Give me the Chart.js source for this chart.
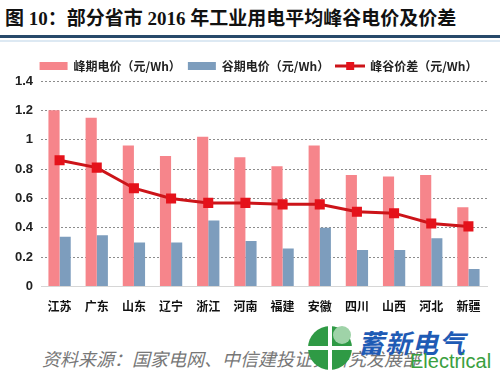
<!DOCTYPE html>
<html><head><meta charset="utf-8">
<script src="https://cdn.jsdelivr.net/npm/chart.js@4"></script>
<style>
html,body{margin:0;padding:0;background:#fff;width:500px;height:371px;overflow:hidden;position:relative;font-family:"Noto Sans CJK SC",sans-serif}
#title{position:absolute;left:5px;top:6px;font-family:"Liberation Serif","Noto Sans CJK SC",serif;font-weight:bold;font-size:19px;color:#111;white-space:nowrap;line-height:26px}
#rule{position:absolute;left:0;top:35px;width:500px;height:3px;background:#27496a}
#rule2{position:absolute;left:0;top:40px;width:500px;height:2px;background:#dde9f3}
#wrap{position:absolute;left:0;top:42px;width:500px;height:281px}
#src{position:absolute;left:42px;top:347px;font-size:18px;font-style:italic;color:#777;white-space:nowrap;line-height:22px}
#logo{position:absolute;left:305px;top:325px;width:50px;height:46px}
#brand{position:absolute;left:358px;top:328px;font-size:26px;font-weight:bold;font-style:italic;color:#1f5bb5;letter-spacing:1px;line-height:28px;white-space:nowrap}
#brand2{position:absolute;left:410px;top:350px;font-family:"Liberation Sans",sans-serif;font-size:20px;color:#3aa040;line-height:22px;white-space:nowrap}
</style></head>
<body>
<div id="title">图 10：部分省市 2016 年工业用电平均峰谷电价及价差</div>
<div id="rule"></div><div id="rule2"></div>
<div id="wrap"><canvas id="c"></canvas></div>
<div id="src">资料来源：国家电网、中信建投证券研究发展部</div>
<svg id="logo" viewBox="0 0 50 46"><circle cx="25" cy="23" r="22" fill="#2f9a45"/><path d="M25 1 L25 45 M3 23 L47 23" stroke="#fff" stroke-width="4"/><circle cx="37" cy="10" r="9" fill="#9fd3a8"/></svg>
<div id="brand">蓄新电气</div>
<div id="brand2">Electrical</div>
<script>
const categories = ["江苏","广东","山东","辽宁","浙江","河南","福建","安徽","四川","山西","河北","新疆"];
const peakPrice   = [1.20,1.15,0.96,0.89,1.02,0.88,0.82,0.96,0.76,0.75,0.76,0.54];
const valleyPrice = [0.34,0.35,0.30,0.30,0.45,0.31,0.26,0.40,0.25,0.25,0.33,0.12];
const priceGap    = [0.86,0.81,0.67,0.60,0.57,0.57,0.56,0.56,0.51,0.50,0.43,0.41];
const yTicks = [0,0.2,0.4,0.6,0.8,1,1.2,1.4];
const seriesNames = ["峰期电价（元/Wh）","谷期电价（元/Wh）","峰谷价差（元/Wh）"];

const PINK="#f6858b", BLUE="#7d9dbd", RED="#cc1419", MRED="#e5121b";

function mkIcon(kind){
  const cv=document.createElement('canvas'); cv.width=30; cv.height=10;
  const x=cv.getContext('2d');
  if(kind==='line'){
    x.strokeStyle=RED; x.lineWidth=3; x.beginPath(); x.moveTo(0,5); x.lineTo(30,5); x.stroke();
    x.fillStyle=MRED; x.fillRect(11,1,8,8);
  } else {
    x.fillStyle=kind; x.fillRect(1,1,28,8);
  }
  return cv;
}
const icons=[mkIcon(PINK),mkIcon(BLUE),mkIcon('line')];

const legendTweak={id:'legendTweak',afterInit(chart){
  const lg=chart.legend; if(!lg) return;
  const f=lg.fit.bind(lg);
  lg.fit=function(){f(); this.height-=1;};
  const d=lg.draw.bind(lg);
  lg.draw=function(){const c=this.ctx; c.save(); c.translate(15,0); d(); c.restore();};
}};

new Chart(document.getElementById('c'),{
  data:{
    labels:categories,
    datasets:[
      {type:'bar',label:seriesNames[0],data:peakPrice,backgroundColor:PINK,order:2,categoryPercentage:0.6,barPercentage:1.0},
      {type:'bar',label:seriesNames[1],data:valleyPrice,backgroundColor:BLUE,order:2,categoryPercentage:0.6,barPercentage:1.0},
      {type:'line',label:seriesNames[2],data:priceGap,borderColor:RED,borderWidth:3,pointStyle:'rect',pointRadius:5,pointBackgroundColor:MRED,pointBorderColor:MRED,order:0,tension:0}
    ]
  },
  plugins:[legendTweak],
  options:{
    responsive:true,maintainAspectRatio:false,animation:false,
    layout:{padding:{top:11,right:13,left:0,bottom:4}},
    plugins:{
      tooltip:{enabled:false},
      legend:{display:true,position:'top',
        labels:{usePointStyle:true,pointStyleWidth:28,boxHeight:10,padding:7,color:'#222',
          font:{family:'"Noto Sans CJK SC",sans-serif',size:12,weight:'bold'},
          generateLabels:(chart)=>chart.data.datasets.map((d,i)=>({text:d.label,pointStyle:icons[i],datasetIndex:i,fillStyle:'#fff',strokeStyle:'#fff',lineWidth:0,fontColor:'#222',hidden:false}))
        }
      }
    },
    scales:{
      x:{grid:{display:false},border:{display:true,color:'#d6d6d6',width:1},
         ticks:{color:'#111',padding:5,font:{family:'"Noto Sans CJK SC",sans-serif',size:12,weight:'bold'}}},
      y:{min:0,max:1.4,
         afterBuildTicks:(s)=>{s.ticks=yTicks.map(v=>({value:v}));},
         afterFit:(s)=>{s.width=41;},
         grid:{color:(ctx)=>ctx.tick&&ctx.tick.value===0?'rgba(0,0,0,0)':'#8c8c8c',lineWidth:1,drawTicks:false},
         border:{display:false,dash:[2,2]},
         ticks:{color:'#222',padding:8,font:{family:'"Liberation Sans",sans-serif',size:13,weight:'bold'},
           callback:(v)=>String(Math.round(v*10)/10)}}
    }
  }
});
</script>
</body></html>
